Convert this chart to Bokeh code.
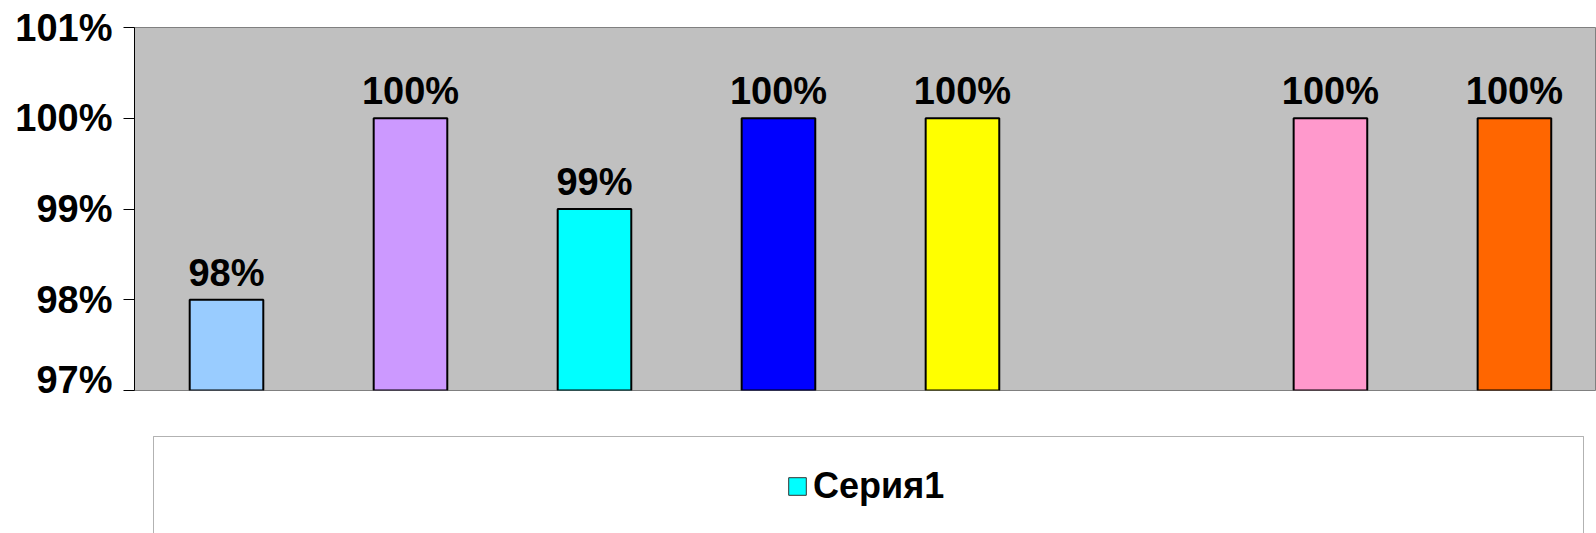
from bokeh.plotting import figure
from bokeh.layouts import column
from bokeh.models import (ColumnDataSource, Range1d, FixedTicker, NumeralTickFormatter,
                          LabelSet, Legend, LegendItem, BoxAnnotation)
from bokeh.embed import file_html
from bokeh.resources import INLINE
from bokeh.core.properties import value
import math

# ---- data ----
categories = ["1", "2", "3", "4", "5", "6", "7", "8"]
values = [0.98, 1.00, 0.99, 1.00, 1.00, float("nan"), 1.00, 1.00]
colors = ["#99CCFF", "#CC99FF", "#00FFFF", "#0000FF", "#FFFF00", "#FFFFFF", "#FF99CC", "#FF6600"]
y_ticks = [0.97, 0.98, 0.99, 1.00, 1.01]
series_name = "Серия1"

FONT = "Liberation Sans"
y_start, y_end = y_ticks[0], y_ticks[-1]

xs = [i + 0.5 for i in range(len(categories))]
labels = ["" if math.isnan(v) else f"{round(v * 100):.0f}%" for v in values]
src = ColumnDataSource(dict(x=xs, top=values, color=colors, label=labels, cat=categories))

W = 1596
LEFT = 134
p = figure(width=W, height=400,
           x_range=Range1d(0, 7.946), y_range=Range1d(y_start, y_end),
           output_backend="svg", toolbar_location=None,
           min_border_left=LEFT, min_border_right=0, min_border_top=27, min_border_bottom=10)

p.background_fill_color = "#C0C0C0"
p.border_fill_color = "white"
p.outline_line_color = "#808080"
p.outline_line_width = 1
p.grid.visible = False
p.xaxis.visible = False

ya = p.yaxis[0]
ya.ticker = FixedTicker(ticks=y_ticks)
ya.formatter = NumeralTickFormatter(format="0%")
ya.major_label_text_font = FONT
ya.major_label_text_font_style = "bold"
ya.major_label_text_font_size = "38px"
ya.major_label_text_color = "black"
ya.axis_line_color = "black"
ya.major_tick_line_color = "black"
ya.major_tick_out = 11
ya.major_tick_in = 0
ya.minor_tick_out = 0
ya.minor_tick_in = 0
ya.major_label_standoff = 11

bars = p.vbar(x="x", top="top", bottom=y_start, width=0.4, source=src,
              fill_color="color", line_color="black", line_width=2)

lbl = LabelSet(x="x", y="top", text="label", source=src, y_offset=14,
               text_align="center", text_baseline="alphabetic",
               text_font=value(FONT), text_font_size="38px", text_font_style="bold",
               text_color="black")
p.add_layout(lbl)

# ---- legend area (pixel-like ranges for the legend frame) ----
H2 = 133
p2 = figure(width=W, height=H2, x_range=Range1d(0, W - LEFT), y_range=Range1d(0, H2),
            output_backend="svg", toolbar_location=None,
            x_axis_location=None, y_axis_location=None,
            min_border_left=LEFT, min_border_right=0, min_border_top=0, min_border_bottom=0)
p2.grid.visible = False
p2.outline_line_color = None
p2.background_fill_color = "white"
p2.border_fill_color = "white"

box = BoxAnnotation(left=19, right=1449, top=97, bottom=-20,
                    fill_color="white", fill_alpha=1.0,
                    line_color="black", line_width=1, level="underlay")
p2.add_layout(box)

swatch = p2.vbar(x="x", top="top", bottom=y_start, width=0.4, source=src,
                 fill_color="color", line_color="#333333", line_width=1, visible=False)

legend = Legend(items=[LegendItem(label=series_name, renderers=[swatch], index=2)],
                location=(652, 26), padding=0, margin=0, spacing=0,
                border_line_color=None, background_fill_alpha=0,
                glyph_width=22, glyph_height=22, label_height=42, label_standoff=5,
                label_text_font=FONT, label_text_font_style="bold",
                label_text_font_size="36px", label_text_color="black")
p2.add_layout(legend)

open("out.html", "w").write(file_html(column(p, p2), INLINE))
